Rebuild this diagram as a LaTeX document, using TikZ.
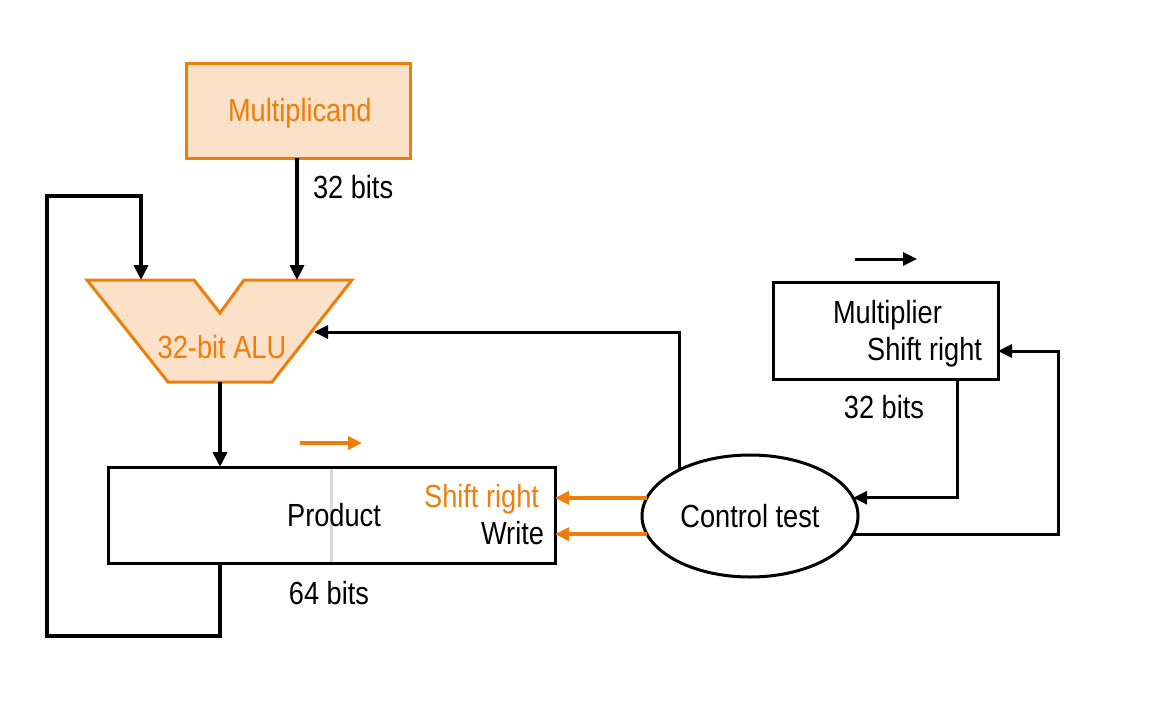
\documentclass[tikz,border=0pt]{standalone}
\usepackage{fontspec}
\setmainfont{Liberation Sans}[FakeStretch=0.85]
\usetikzlibrary{arrows.meta,shapes.geometric}
\definecolor{org}{RGB}{238,125,10}
\definecolor{orgfill}{RGB}{251,225,200}
\definecolor{divgray}{RGB}{215,215,215}
\begin{document}
\begin{tikzpicture}[x=1pt,y=-1pt,
  font=\fontsize{32}{36}\selectfont,
  every node/.style={inner sep=0pt, outer sep=0pt},
  box/.style={draw, line width=3pt, anchor=north west},
  obox/.style={draw=org, fill=orgfill, line width=3pt, anchor=north west},
  arr/.style={line width=3pt, -{Triangle[length=14pt,width=13pt]}},
  thickarr/.style={line width=4pt, line join=miter, -{Triangle[length=15pt,width=14pt]}},
  oarr/.style={draw=org, line width=3.5pt, -{Triangle[length=14pt,width=13pt]}, color=org},
  lbl/.style={text=black}]
\useasboundingbox (0,0) rectangle (1158,704);

% Multiplicand
\node[obox, minimum width=224pt, minimum height=95pt] (mcand) at (186,63) {};
\node[text=org, anchor=base west] (mcandtxt) at (228,121.5) {Multiplicand};
\node[lbl, anchor=base west] (b32a) at (313,198) {32 bits};

% ALU
\filldraw[draw=org, fill=orgfill, line width=3pt, line join=miter]
  (87,280) -- (194,280) -- (220,313) -- (244,280) -- (352,280) -- (272,382) -- (168,382) -- cycle;
\node[text=org, anchor=base] (alu) at (222,358) {32-bit ALU};
\coordinate (aluL) at (141,280);
\coordinate (aluR) at (297,280);
\coordinate (aluOut) at (220,382);
\coordinate (aluSide) at (314,332);

% Product
\node[box, minimum width=447pt, minimum height=96pt] (prod) at (108,467) {};
\draw[divgray, line width=3pt] (331,468.5) -- (331,561.5);
\node[lbl, anchor=base] (prodtxt) at (334,526) {Product};
\node[text=org, anchor=base east] (psr) at (539,507) {Shift right};
\node[lbl, anchor=base east] (pw) at (544,544) {Write};
\node[lbl, anchor=base] (b64) at (329,604) {64 bits};
\coordinate (prodT) at (220,467);
\coordinate (prodB) at (220,563);
\coordinate (pa1) at (300,443);
\coordinate (pa2) at (362,443);
\draw[oarr] (pa1) -- (pa2);

% Multiplier
\node[box, minimum width=225pt, minimum height=97pt] (mplier) at (773,282) {};
\node[lbl, anchor=base west] (mtxt) at (833,323.5) {Multiplier};
\node[lbl, anchor=base east] (msr) at (982,360) {Shift right};
\node[lbl, anchor=base] (b32b) at (884,418) {32 bits};
\coordinate (mout) at (957,380);
\coordinate (mSR) at (998,351);
\coordinate (ma1) at (855,259);
\coordinate (ma2) at (917,259);
\draw[arr] (ma1) -- (ma2);

% Control
\node[draw, ellipse, line width=3pt, minimum width=216pt, minimum height=122pt] (ctrl) at (750,516) {};
\node[lbl, anchor=base] (ctrltxt) at (750,527) {Control test};

% Connectors
\draw[thickarr] (mcand.south -| aluR) -- (aluR);
\draw[thickarr] (prodB) -- (220,636) -- (47,636) -- (47,196) -- (141,196) -- (aluL);
\draw[thickarr] (aluOut) -- (prodT);
\draw[arr] (ctrl.147) |- (aluSide);
\draw[oarr] (ctrl.170) -- (ctrl.170 -| prod.east);
\draw[oarr] (ctrl.190) -- (ctrl.190 -| prod.east);
\draw[arr] (mout) |- (ctrl.10);
\draw[arr] (ctrl.-10) -| (1058,351) -- (mSR);
\end{tikzpicture}
\end{document}
